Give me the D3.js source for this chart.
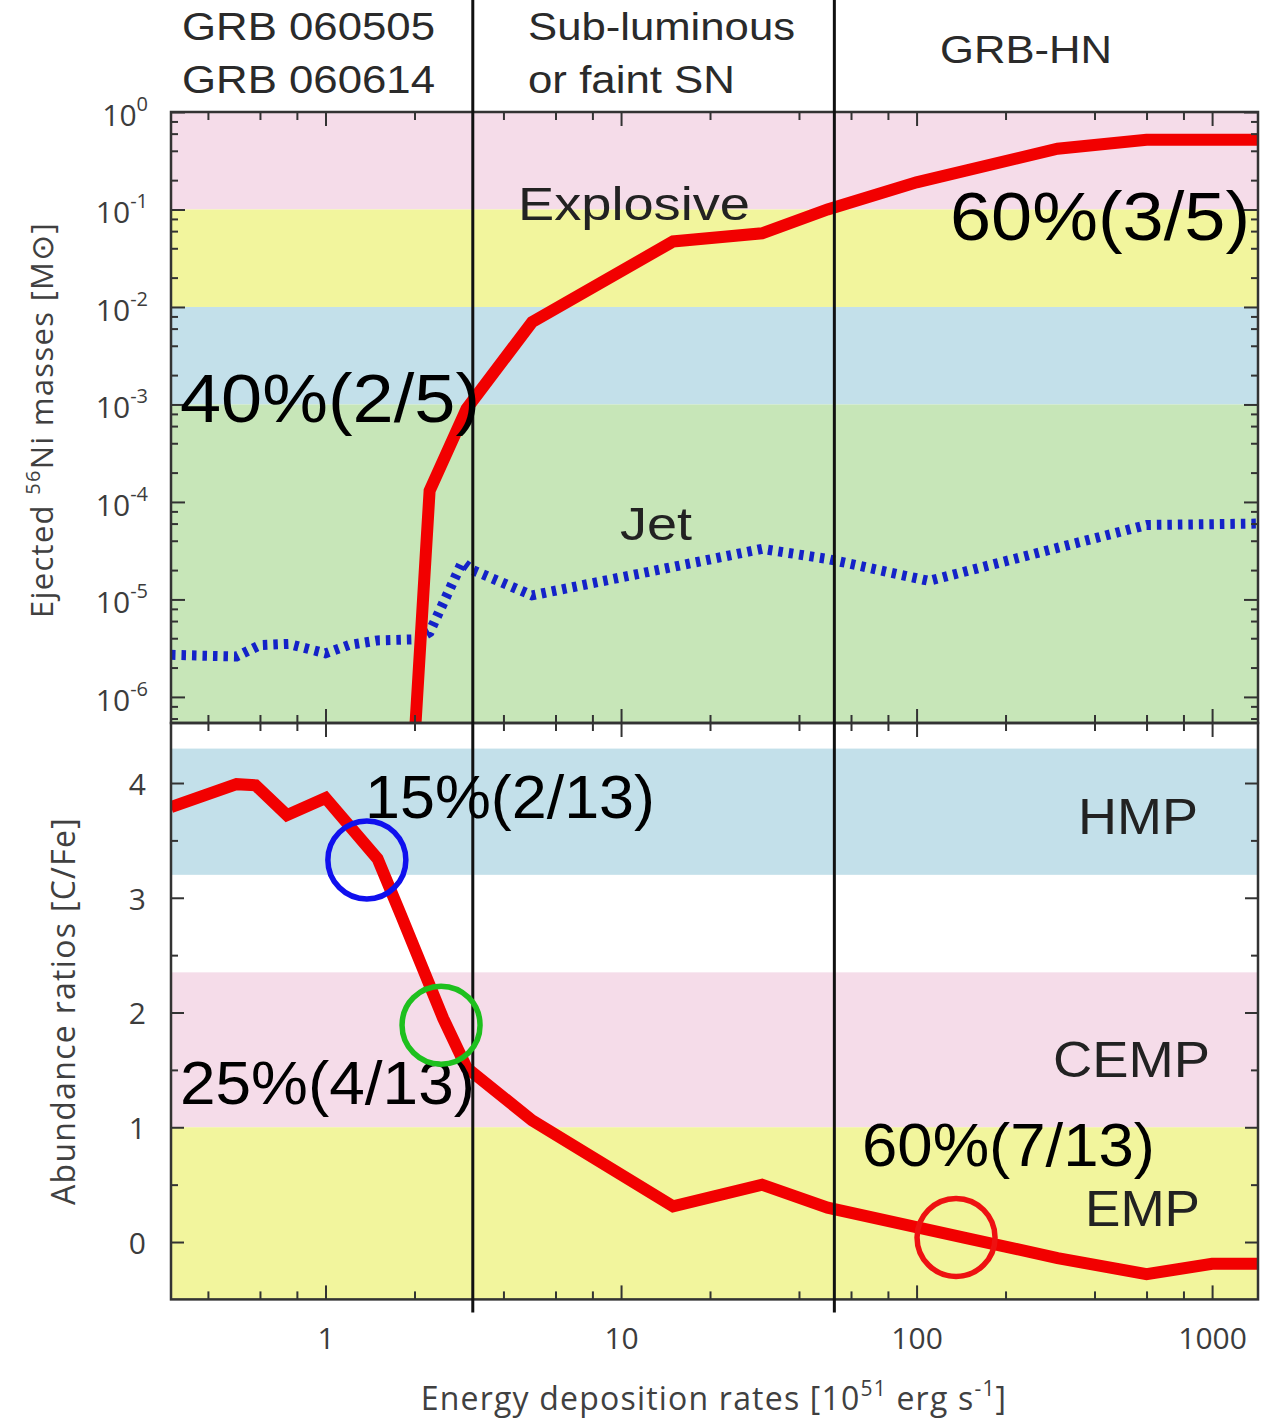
<!DOCTYPE html>
<html><head><meta charset="utf-8">
<script src="https://cdn.jsdelivr.net/npm/d3@7"></script>
<style>body{margin:0;background:#fff}svg{display:block}</style>
</head><body><svg id="c" width="1263" height="1422"></svg>
<script>
// ---------------- DATA ----------------
const energyDomain = [0.3, 1430];
const regimeBoundaries = [3.15, 52.7];
const regimeNames = [["GRB 060505", "GRB 060614"], ["Sub-luminous", "or faint SN"], ["GRB-HN"]];

const niDomain = [5.4e-7, 1];
const niBandEdges = [1, 0.1, 0.01, 0.001, 5.4e-7];
const cfeDomain = [-0.5, 4.523];
const cfeBands = [[3.2, 4.3], [1, 2.35], [-0.5, 1]];
const cfeBandNames = ["HMP", "CEMP", "EMP"];
const curveNames = ["Explosive", "Jet"];

const explosiveE  = [1.95, 2.25, 3.0, 5, 15, 30, 50, 100, 300, 600, 1430];
const explosiveNi = [1e-7, 1.3e-4, 9e-4, 7e-3, 0.047, 0.057, 0.1, 0.19, 0.42, 0.52, 0.52];

const jetE  = [0.3, 0.5, 0.6, 0.75, 1.0, 1.2, 1.5, 2.05, 2.25, 2.9, 3.15, 5, 30, 50, 110, 600, 1430];
const jetNi = [2.7e-6, 2.6e-6, 3.4e-6, 3.5e-6, 2.8e-6, 3.4e-6, 3.8e-6, 3.9e-6, 4.6e-6, 2.4e-5, 2.0e-5, 1.1e-5, 3.3e-5, 2.6e-5, 1.55e-5, 5.8e-5, 6.0e-5];

const cfeE   = [0.3, 0.5, 0.58, 0.74, 1.0, 1.5, 1.8, 2.5, 3.0, 5, 15, 30, 50, 150, 300, 600, 1000, 1430];
const cfeVal = [3.79, 3.99, 3.98, 3.72, 3.87, 3.34, 2.85, 1.95, 1.52, 1.06, 0.31, 0.5, 0.3, 0.03, -0.14, -0.28, -0.19, -0.19];

const xMajorTicks = [1, 10, 100, 1000];
const xMinorTicks = [0.4, 0.6, 0.8, 2, 4, 6, 8, 20, 40, 60, 80, 200, 400, 600, 800];
const niMajorTicks = [1, 0.1, 0.01, 0.001, 1e-4, 1e-5, 1e-6];
const niMinorMultipliers = [2, 4, 6, 8];
const cfeMajorTicks = [0, 1, 2, 3, 4];
const cfeMinorTicks = [0.5, 1.5, 2.5, 3.5];

const percentNotes = ["60%(3/5)", "40%(2/5)", "15%(2/13)", "25%(4/13)", "60%(7/13)"];
const highlightE   = [1.38, 2.46, 136];
const highlightCfe = [3.33, 1.89, 0.04];

// ---------------- LAYOUT / STYLE ----------------
const L = 171, R = 1258, T = 112, MID = 723, B = 1299.4;
const niColors = ["#f5dce9", "#f2f59d", "#c3e0ea", "#c7e6b8"];
const cfeColors = ["#c3e0ea", "#f5dce9", "#f2f59d"];
const circleColors = ["#1010ee", "#1ec01e", "#ee1111"];
const axisColor = "#333";
const tickFont = "'Open Sans', 'DejaVu Sans', sans-serif";
const helv = "'Liberation Sans', Arial, sans-serif";

const svg = d3.select("#c");
svg.append("rect").attr("width", 1263).attr("height", 1422).attr("fill", "#fff");

const x = d3.scaleLog().domain(energyDomain).range([L, R]);
const yNi = d3.scaleLog().domain(niDomain).range([MID, T]);
const yCf = d3.scaleLinear().domain(cfeDomain).range([B, MID]);

const defs = svg.append("defs");
defs.append("clipPath").attr("id", "clipTop").append("rect")
  .attr("x", L).attr("y", T).attr("width", R - L).attr("height", MID - T);
defs.append("clipPath").attr("id", "clipBot").append("rect")
  .attr("x", L).attr("y", MID).attr("width", R - L).attr("height", B - MID);

// bands
svg.append("g").selectAll("rect").data(d3.pairs(niBandEdges)).join("rect")
  .attr("x", L).attr("width", R - L)
  .attr("y", d => yNi(d[0])).attr("height", d => yNi(d[1]) - yNi(d[0]))
  .attr("fill", (d, i) => niColors[i]);
svg.append("g").selectAll("rect").data(cfeBands).join("rect")
  .attr("x", L).attr("width", R - L)
  .attr("y", d => yCf(d[1])).attr("height", d => yCf(d[0]) - yCf(d[1]))
  .attr("fill", (d, i) => cfeColors[i]);

// curves
const lineNi = d3.line().x(d => x(d[0])).y(d => yNi(d[1]));
const lineCf = d3.line().x(d => x(d[0])).y(d => yCf(d[1]));
svg.append("path").attr("clip-path", "url(#clipTop)")
  .attr("d", lineNi(d3.zip(jetE, jetNi)))
  .attr("fill", "none").attr("stroke", "#1422c8").attr("stroke-width", 10)
  .attr("stroke-dasharray", "4.5,6");
svg.append("path").attr("clip-path", "url(#clipTop)")
  .attr("d", lineNi(d3.zip(explosiveE, explosiveNi)))
  .attr("fill", "none").attr("stroke", "#f20000").attr("stroke-width", 12);
svg.append("path").attr("clip-path", "url(#clipBot)")
  .attr("d", lineCf(d3.zip(cfeE, cfeVal)))
  .attr("fill", "none").attr("stroke", "#f20000").attr("stroke-width", 12);

// ---------------- AXES / TICKS ----------------
function styleAxis(g) {
  g.select(".domain").remove();
  g.selectAll("line").attr("stroke", axisColor).attr("stroke-width", 2);
  g.selectAll("text").remove();
}
const niMinorTicks = [];
niMajorTicks.forEach(m => niMinorMultipliers.forEach(k => {
  const v = m * k / 10;
  if (v > niDomain[0] && v < niDomain[1]) niMinorTicks.push(v);
}));

[[d3.axisTop, T], [d3.axisBottom, MID], [d3.axisTop, MID], [d3.axisBottom, B]].forEach(([ax, yy]) => {
  svg.append("g").attr("transform", `translate(0,${yy})`)
    .call(ax(x).tickValues(xMajorTicks).tickSizeInner(-14).tickSizeOuter(0)).call(styleAxis);
  svg.append("g").attr("transform", `translate(0,${yy})`)
    .call(ax(x).tickValues(xMinorTicks).tickSizeInner(-8).tickSizeOuter(0)).call(styleAxis);
});
[[d3.axisLeft, L], [d3.axisRight, R]].forEach(([ax, xx]) => {
  svg.append("g").attr("transform", `translate(${xx},0)`)
    .call(ax(yNi).tickValues(niMajorTicks).tickSizeInner(-14).tickSizeOuter(0)).call(styleAxis);
  svg.append("g").attr("transform", `translate(${xx},0)`)
    .call(ax(yNi).tickValues(niMinorTicks).tickSizeInner(-7).tickSizeOuter(0)).call(styleAxis);
  svg.append("g").attr("transform", `translate(${xx},0)`)
    .call(ax(yCf).tickValues(cfeMajorTicks).tickSizeInner(-13).tickSizeOuter(0)).call(styleAxis);
  svg.append("g").attr("transform", `translate(${xx},0)`)
    .call(ax(yCf).tickValues(cfeMinorTicks).tickSizeInner(-7).tickSizeOuter(0)).call(styleAxis);
});

// frames
svg.append("rect").attr("x", L).attr("y", T).attr("width", R - L).attr("height", MID - T)
  .attr("fill", "none").attr("stroke", axisColor).attr("stroke-width", 2.5);
svg.append("rect").attr("x", L).attr("y", MID).attr("width", R - L).attr("height", B - MID)
  .attr("fill", "none").attr("stroke", axisColor).attr("stroke-width", 2.5);

// regime boundary lines
svg.append("g").selectAll("line").data(regimeBoundaries).join("line")
  .attr("x1", d => x(d)).attr("x2", d => x(d)).attr("y1", 0).attr("y2", B + 13)
  .attr("stroke", "#111").attr("stroke-width", 3);

// tick labels: x
svg.append("g").attr("transform", `translate(0,${B})`)
  .call(d3.axisBottom(x).tickValues(xMajorTicks).tickSize(0).tickPadding(28).tickFormat(d3.format("d")))
  .call(g => g.select(".domain").remove())
  .selectAll("text").attr("font-family", tickFont).attr("font-size", 30).attr("fill", "#3c3c3c");

// tick labels: top y (10^n)
const niLab = svg.append("g").selectAll("text").data(niMajorTicks).join("text")
  .attr("x", 148).attr("y", d => yNi(d) + 14)
  .attr("text-anchor", "end").attr("font-family", tickFont).attr("fill", "#3c3c3c").attr("font-size", 30);
niLab.append("tspan").text("10");
niLab.append("tspan").attr("dy", -15).attr("font-size", 20).text(d => Math.round(Math.log10(d)));

// tick labels: bottom y
svg.append("g").attr("transform", `translate(${L},0)`)
  .call(d3.axisLeft(yCf).tickValues(cfeMajorTicks).tickSize(0).tickPadding(25).tickFormat(d3.format("d")))
  .call(g => g.select(".domain").remove())
  .selectAll("text").attr("font-family", tickFont).attr("font-size", 30).attr("fill", "#3c3c3c")
  .attr("dy", "0.38em");

// axis titles
const t1 = svg.append("text").attr("transform", "translate(53,420) rotate(-90)")
  .attr("text-anchor", "middle").attr("font-family", tickFont).attr("font-size", 31)
  .attr("letter-spacing", 1.3).attr("fill", "#404040");
t1.append("tspan").text("Ejected ");
t1.append("tspan").attr("dy", -13).attr("font-size", 20).text("56");
t1.append("tspan").attr("dy", 13).text("Ni masses [M⊙]");

svg.append("text").attr("transform", "translate(75,1011) rotate(-90)")
  .attr("text-anchor", "middle").attr("font-family", tickFont).attr("font-size", 32)
  .attr("letter-spacing", 1.3).attr("fill", "#404040")
  .text("Abundance ratios [C/Fe]");

const t3 = svg.append("text").attr("x", 714).attr("y", 1410)
  .attr("text-anchor", "middle").attr("font-family", tickFont).attr("font-size", 32)
  .attr("letter-spacing", 1.2).attr("fill", "#404040");
t3.append("tspan").text("Energy deposition rates [10");
t3.append("tspan").attr("dy", -14).attr("font-size", 21).text("51");
t3.append("tspan").attr("dy", 14).text(" erg s");
t3.append("tspan").attr("dy", -14).attr("font-size", 21).text("-1");
t3.append("tspan").attr("dy", 14).text("]");

function label(txt, xx, yy, size, len, fill) {
  svg.append("text").attr("x", xx).attr("y", yy).attr("font-family", helv)
    .attr("font-size", size).attr("fill", fill || "#2a2a2a")
    .attr("textLength", len).attr("lengthAdjust", "spacingAndGlyphs").text(txt);
}
label(regimeNames[0][0], 182, 40, 38, 253);
label(regimeNames[0][1], 182, 93, 38, 253);
label(regimeNames[1][0], 528, 40, 38, 267);
label(regimeNames[1][1], 528, 93, 38, 207);
label(regimeNames[2][0], 940, 63, 38, 172);

label(curveNames[0], 518, 220, 46, 232, "#222");
label(curveNames[1], 620, 540, 46, 72, "#222");
label(cfeBandNames[0], 1078, 834, 50, 120, "#222");
label(cfeBandNames[1], 1053, 1077, 50, 157, "#222");
label(cfeBandNames[2], 1085, 1226, 50, 115, "#222");

label(percentNotes[0], 950, 240, 68, 300, "#000");
label(percentNotes[1], 180, 422, 68, 300, "#000");
label(percentNotes[2], 365, 818, 62, 290, "#000");
label(percentNotes[3], 180, 1104, 62, 295, "#000");
label(percentNotes[4], 862, 1166, 62, 293, "#000");

// highlight circles
svg.append("g").selectAll("circle").data(d3.zip(highlightE, highlightCfe)).join("circle")
  .attr("cx", d => x(d[0])).attr("cy", d => yCf(d[1])).attr("r", 39)
  .attr("fill", "none").attr("stroke", (d, i) => circleColors[i]).attr("stroke-width", 5.5);
</script></body></html>
